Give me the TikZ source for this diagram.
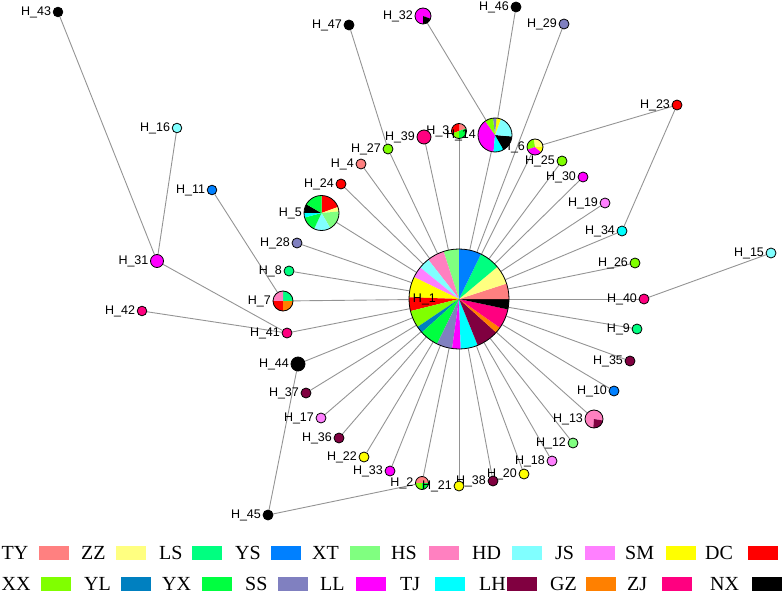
\documentclass[tikz,border=0pt]{standalone}
\usepackage{fontspec}
\setmainfont{Liberation Serif}
\setsansfont{Liberation Sans}
\usetikzlibrary{positioning,backgrounds}
\definecolor{cTY}{HTML}{FF8080}
\definecolor{cZZ}{HTML}{FFFF80}
\definecolor{cLS}{HTML}{00FF80}
\definecolor{cYS}{HTML}{0080FF}
\definecolor{cXT}{HTML}{80FF80}
\definecolor{cHS}{HTML}{FF80C0}
\definecolor{cHD}{HTML}{80FFFF}
\definecolor{cJS}{HTML}{FF80FF}
\definecolor{cSM}{HTML}{FFFF00}
\definecolor{cDC}{HTML}{FF0000}
\definecolor{cXX}{HTML}{80FF00}
\definecolor{cYL}{HTML}{0080C0}
\definecolor{cYX}{HTML}{00FF40}
\definecolor{cSS}{HTML}{8080C0}
\definecolor{cLL}{HTML}{FF00FF}
\definecolor{cTJ}{HTML}{00FFFF}
\definecolor{cLH}{HTML}{800040}
\definecolor{cGZ}{HTML}{FF8000}
\definecolor{cZJ}{HTML}{FF0080}
\definecolor{cNX}{HTML}{000000}
\newcommand*{\hapnode}[4]{%
\node[hap, minimum size = #3*2bp, fill = #4] (h#1) at (#2) {};
\node[hlabel, left = 1bp of h#1] (h#1-label) {H\_#1};
}
\newcommand*{\happie}[5][1bp]{%
\foreach \a/\b/\c in {#5}{
	\fill[fill = \c] (#3) -- ++(\a:#4bp) arc[start angle = \a, end angle = \b, radius = #4bp] -- cycle;
}
\node[hap, minimum size = #4*2bp] (h#2) at (#3) {};
\node[hlabel, left = #1 of h#2] (h#2-label) {H\_#2};
}

\begin{document}
\begin{tikzpicture}[x = 1bp, y = -1bp]
		\tikzset{
			hap/.style = {circle, draw = black, line width = 0.8bp, inner sep = 0pt},
			hlabel/.style = {font = \fontsize{12.5bp}{14bp}\sffamily, inner sep = 0.5bp},
			edge/.style = {draw = black!42, line width = 0.9bp},
			legtext/.style = {font = \fontsize{20bp}{24bp}\selectfont, inner sep = 0pt, anchor = west},
			swatch/.style = {minimum width = 30bp, minimum height = 14bp, inner sep = 0pt, anchor = west},
		};
		\useasboundingbox (0,0) rectangle (784,596);

		\happie[-28bp]{1}{459,299}{50}{90/108/cXT, 108/128/cHS, 128/141/cHD, 141/154/cJS, 154/178/cSM, 178/194/cDC, 194/214/cXX, 214/222/cYL, 222/244/cYX, 244/262/cSS, 262/272/cLL, 272/292/cTJ, 292/318/cLH, 318/325/cGZ, 325/348/cZJ, 348/360/cNX, 0/18/cTY, 18/40/cZZ, 40/64/cLS, 64/90/cYS}
		\happie{5}{321.5,213}{17.5}{20/90/cDC, 5/20/cZZ, -60/5/cXT, -115/-60/cHD, -165/-115/cYX, 180/195/cTJ, 150/180/cNX, 90/150/cYX}
		\happie{7}{283,301}{10}{0/90/cLS, 90/180/cHS, 180/270/cDC, 270/360/cGZ}
		\happie{3}{459,131}{7.5}{20/90/cTY, 90/200/cDC, 200/270/cXX, 270/380/cYX}
		\happie{14}{495,135}{17}{125/265/cLL, 265/300/cTJ, 300/355/cNX, -5/70/cHD, 70/85/cSM, 85/97/cSS, 97/125/cXX}
		\happie{32}{423,16}{8}{-20/270/cLL, 270/340/cNX}
		\happie{6}{535,147}{8}{0/100/cZZ, 100/200/cXX, 200/320/cLL, 320/360/cSM}
		\happie{13}{594,419}{9}{-10/265/cHS, 265/350/cLH}
		\happie{2}{422,483}{6.5}{0/180/cTY, 180/270/cXX, 270/360/cYX}

		\hapnode{43}{58,12}{4.8}{cNX}
		\hapnode{16}{177,128}{4.8}{cHD}
		\hapnode{11}{212,190}{4.8}{cYS}
		\hapnode{31}{157,261}{6.5}{cLL}
		\hapnode{42}{142,311}{4.8}{cZJ}
		\hapnode{41}{287,333}{5}{cZJ}
		\hapnode{44}{298,364}{7}{cNX}
		\hapnode{8}{289,271}{5}{cLS}
		\hapnode{28}{297,243}{5}{cSS}
		\hapnode{24}{341,184}{5}{cDC}
		\hapnode{4}{361,164}{5}{cTY}
		\hapnode{27}{388,149}{5}{cXX}
		\hapnode{47}{349,25}{5}{cNX}
		\hapnode{39}{424,137}{7}{cZJ}
		\hapnode{46}{516,7}{5}{cNX}
		\hapnode{29}{564,24}{5}{cSS}
		\hapnode{25}{562,161}{5}{cXX}
		\hapnode{30}{583,177}{5}{cLL}
		\hapnode{23}{677,105}{5}{cDC}
		\hapnode{19}{605,203}{5}{cJS}
		\hapnode{34}{622,231}{5}{cTJ}
		\hapnode{26}{635,263}{5}{cXX}
		\hapnode{15}{771,253}{5}{cHD}
		\hapnode{40}{644,299}{5}{cZJ}
		\hapnode{9}{637,329}{5}{cLS}
		\hapnode{35}{630,361}{5}{cLH}
		\hapnode{10}{614,391}{5}{cYS}
		\hapnode{12}{573,443}{5}{cXT}
		\hapnode{18}{552,461}{5}{cJS}
		\hapnode{20}{524,474}{5}{cSM}
		\hapnode{38}{493,481}{5}{cLH}
		\hapnode{21}{459,486}{5}{cSM}
		\hapnode{33}{390,471}{5}{cLL}
		\hapnode{22}{364,457}{5}{cSM}
		\hapnode{36}{339,438}{5}{cLH}
		\hapnode{17}{321,418}{5}{cJS}
		\hapnode{37}{306,393}{5}{cLH}
		\hapnode{45}{268,515}{5}{cNX}

		\begin{scope}[on background layer]
			\foreach \n in {5,28,8,7,41,44,37,17,36,22,33,2,21,38,20,18,12,13,10,35,9,40,26,34,19,30,25,6,29,14,3,39,27,4,24}
				\draw[edge] (h1) -- (h\n);
			\foreach \s/\t in {47/27,32/14,46/14,23/6,23/34,15/40,43/31,16/31,31/41,42/41,11/7,44/45,45/2}
				\draw[edge] (h\s) -- (h\t);
		\end{scope}

		% legend
		\foreach \lab/\tx/\sx in {TY/1.5/39,ZZ/81/116,LS/159/192,YS/235/271,XT/312/350,HS/391/429,HD/472/512,JS/555/585,SM/625/666,DC/705/748}{
			\node[legtext] (leg-\lab) at (\tx,553) {\lab};
			\node[swatch, fill = c\lab] (sw-\lab) at (\sx,553) {};
		}
		\foreach \lab/\tx/\sx in {XX/1.5/41,YL/84/121,YX/162/202,SS/245/278,LL/320/356,TJ/400/435,LH/479/507,GZ/550/586,ZJ/627/662,NX/710/752}{
			\node[legtext] (leg-\lab) at (\tx,584) {\lab};
			\node[swatch, fill = c\lab] (sw-\lab) at (\sx,584) {};
		}
	\end{tikzpicture}
\end{document}
